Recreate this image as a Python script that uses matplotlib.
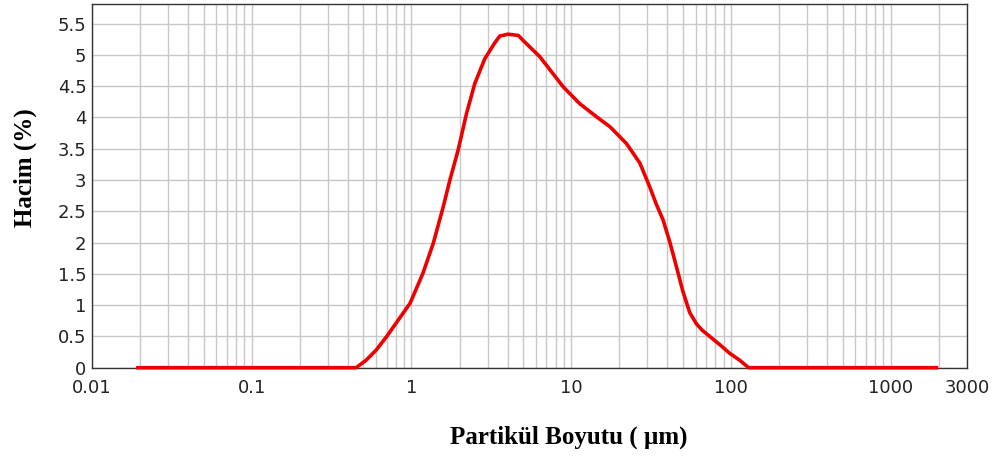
import matplotlib
matplotlib.use('Agg')
import matplotlib.pyplot as plt
from matplotlib.ticker import FixedLocator, NullFormatter

# particle size distribution (volume %)
size_um = [0.0194, 0.1, 0.2, 0.45, 0.52, 0.60, 0.70, 0.81, 0.98, 1.18, 1.37, 1.58, 1.74, 1.96,
           2.21, 2.49, 2.88, 3.30, 3.57, 4.03, 4.66, 5.0, 6.36, 8.9, 11.3, 14.4,
           17.5, 22.2, 26.9, 31.0, 34.0, 37.6, 41.5, 45.6, 50.0, 55.2, 60.8,
           66.0, 73.6, 85.0, 98.2, 113.4, 129.0, 300.0, 1000.0, 1930.0]
volume = [0.0, 0.0, 0.0, 0.0, 0.12, 0.28, 0.50, 0.73, 1.03, 1.51, 1.99, 2.57, 3.0, 3.48,
          4.06, 4.54, 4.94, 5.18, 5.30, 5.33, 5.31, 5.23, 4.97, 4.49, 4.22, 4.01,
          3.85, 3.58, 3.27, 2.89, 2.62, 2.36, 2.0, 1.61, 1.22, 0.88, 0.70,
          0.60, 0.50, 0.37, 0.23, 0.12, 0.0, 0.0, 0.0, 0.0]

xticks = [0.01, 0.1, 1, 10, 100, 1000, 3000]
xticklabels = ['0.01', '0.1', '1', '10', '100', '1000', '3000']
yticks = [0, 0.5, 1, 1.5, 2, 2.5, 3, 3.5, 4, 4.5, 5, 5.5]
yticklabels = ['0', '0.5', '1', '1.5', '2', '2.5', '3', '3.5', '4', '4.5', '5', '5.5']

minor = [m * 10.0**d for d in range(-2, 4) for m in range(2, 10) if m * 10.0**d < 3000]

fig = plt.figure(figsize=(10.04, 4.63), dpi=100)
ax = fig.add_axes([0.0916, 0.2058, 0.8715, 0.7866])

ax.set_xscale('log')
ax.set_xlim(0.01, 3000)
ax.set_ylim(0, 5.82)

ax.xaxis.set_major_locator(FixedLocator(xticks))
ax.xaxis.set_minor_locator(FixedLocator(minor))
ax.xaxis.set_minor_formatter(NullFormatter())
ax.set_xticklabels(xticklabels)
ax.set_yticks(yticks)
ax.set_yticklabels(yticklabels)

ax.grid(True, which='both', axis='x', color='#c8c8c8', linewidth=1.0)
ax.grid(True, which='major', axis='y', color='#c8c8c8', linewidth=1.0)
ax.set_axisbelow(True)

ax.tick_params(which='both', length=0, labelsize=13, colors='#222222')
ax.tick_params(axis='x', pad=8)
ax.tick_params(axis='y', pad=4)
for s in ax.spines.values():
    s.set_color('#333333')
    s.set_linewidth(1.0)

ax.plot(size_um, volume, color='#ee0000', linewidth=2.6, clip_on=False,
        solid_joinstyle='round', zorder=5)

fig.text(0.025, 0.637, 'Hacim (%)', rotation=90, ha='center', va='center',
         family='Liberation Serif', weight='bold', fontsize=18)
fig.text(0.566, 0.056, 'Partikül Boyutu ( µm)', ha='center', va='center',
         family='Liberation Serif', weight='bold', fontsize=18)

fig.savefig('out.png', dpi=100)
